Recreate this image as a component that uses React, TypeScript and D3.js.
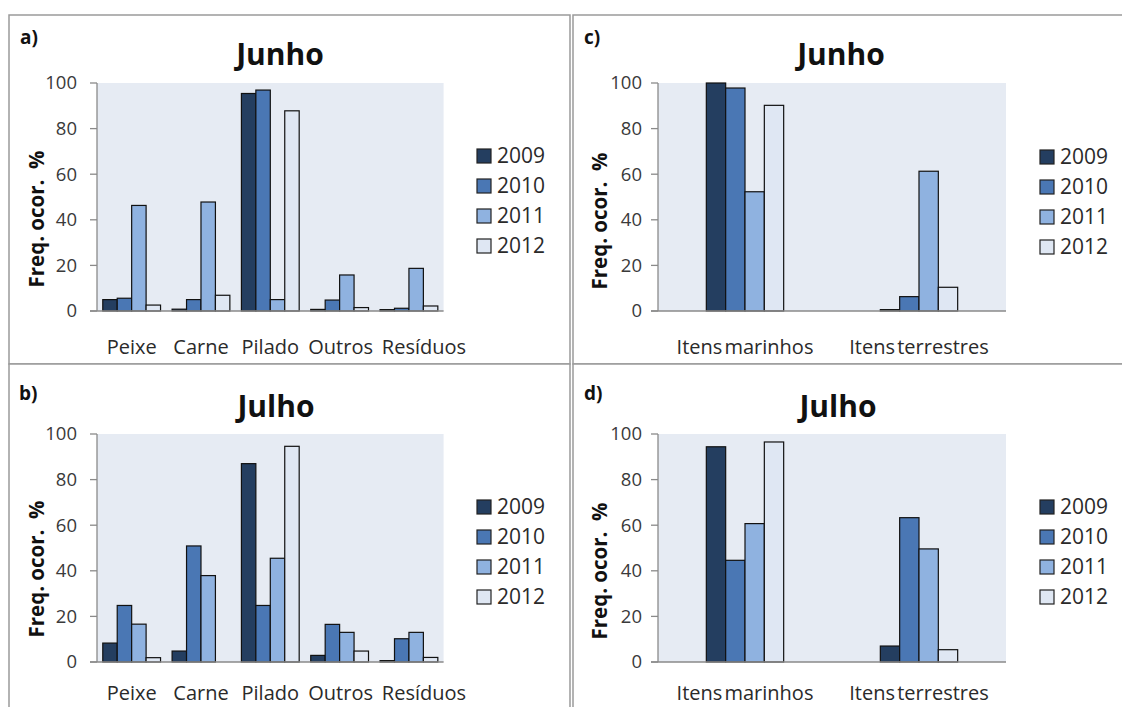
import React from "react";
import * as d3 from "d3";

// ---------- data ----------
const years = ["2009", "2010", "2011", "2012"];
const yearColors = ["#243E60", "#4A77B4", "#8FB2E0", "#DFE7F3"];
const yTicks = [0, 20, 40, 60, 80, 100];

const dietCategories = ["Peixe", "Carne", "Pilado", "Outros", "Resíduos"];
const originCategories = ["Itens marinhos", "Itens terrestres"];

// a) Junho – diet items (one array per year)
const junhoDiet2009 = [5, 0.8, 95.4, 0.7, 0.6];
const junhoDiet2010 = [5.6, 5, 96.9, 4.8, 1.2];
const junhoDiet2011 = [46.3, 47.8, 5, 15.8, 18.7];
const junhoDiet2012 = [2.6, 6.9, 87.8, 1.5, 2.2];

// b) Julho – diet items
const julhoDiet2009 = [8.3, 4.8, 87, 2.9, 0.6];
const julhoDiet2010 = [24.8, 50.9, 24.8, 16.5, 10.2];
const julhoDiet2011 = [16.6, 37.9, 45.5, 13, 13];
const julhoDiet2012 = [1.9, 0, 94.6, 4.8, 2];

// c) Junho – origin
const junhoOrigin2009 = [100, 0.6];
const junhoOrigin2010 = [97.8, 6.3];
const junhoOrigin2011 = [52.3, 61.3];
const junhoOrigin2012 = [90.2, 10.4];

// d) Julho – origin
const julhoOrigin2009 = [94.4, 7.0];
const julhoOrigin2010 = [44.6, 63.3];
const julhoOrigin2011 = [60.7, 49.6];
const julhoOrigin2012 = [96.5, 5.4];

const FONT = "'Open Sans', 'DejaVu Sans', sans-serif";

type PanelProps = {
  box: [number, number, number, number];
  letter: string;
  letterPos: [number, number];
  title: string;
  titlePos: [number, number];
  plot: [number, number, number, number]; // x0, x1, yTop, yBottom
  categories: string[];
  series: number[][];
  paddingInner: number;
  labelShift?: number[];
  labelGap: number;
  tickLabelRight: number;
  yLabelPos: [number, number];
  legendPos: [number, number];
};

function Panel(p: PanelProps) {
  const [px0, px1, pyTop, pyBot] = p.plot;
  const y = d3.scaleLinear().domain([0, 100]).range([pyBot, pyTop]);
  const x = d3
    .scaleBand<string>()
    .domain(p.categories)
    .range([px0, px1])
    .paddingInner(p.paddingInner)
    .paddingOuter(p.paddingInner / 2);
  const xs = d3.scaleBand<string>().domain(years).range([0, x.bandwidth()]).padding(0);

  return (
    <g>
      <rect x={p.box[0]} y={p.box[1]} width={p.box[2]} height={p.box[3]} fill="#fff" stroke="#9a9a9a" strokeWidth={1.5} />
      <text x={p.letterPos[0]} y={p.letterPos[1]} fontFamily={FONT} fontWeight="bold" fontSize={19} fill="#111">
        {p.letter}
      </text>
      <text x={p.titlePos[0]} y={p.titlePos[1]} textAnchor="middle" fontFamily={FONT} fontWeight="bold" fontSize={30} fill="#111">
        {p.title}
      </text>
      <rect x={px0} y={pyTop} width={px1 - px0} height={pyBot - pyTop} fill="#E6EBF3" />
      {/* y axis */}
      <line x1={px0} x2={px0} y1={pyTop} y2={pyBot} stroke="#8a8a8a" strokeWidth={1.3} />
      {yTicks.map((t) => (
        <g key={t}>
          <line x1={px0 - 7} x2={px0} y1={y(t)} y2={y(t)} stroke="#8a8a8a" strokeWidth={1.3} />
          <text
            x={p.tickLabelRight}
            y={y(t)}
            dy="0.35em"
            textAnchor="end"
            fontFamily={FONT}
            fontSize={18.5}
            fill="#3a3a3a"
          >
            {t}
          </text>
        </g>
      ))}
      {/* bars */}
      {p.categories.map((c, ci) =>
        years.map((yr, si) => {
          const v = p.series[si][ci];
          if (v <= 0) return null;
          return (
            <rect
              key={c + yr}
              x={(x(c) as number) + (xs(yr) as number)}
              y={y(v)}
              width={xs.bandwidth()}
              height={pyBot - y(v)}
              fill={yearColors[si]}
              stroke="#111"
              strokeWidth={1.2}
            />
          );
        })
      )}
      {/* x axis */}
      <line x1={px0 - 7} x2={px1} y1={pyBot} y2={pyBot} stroke="#8a8a8a" strokeWidth={1.3} />
      {p.categories.map((c, ci) => (
        <text
          key={c}
          x={(x(c) as number) + x.bandwidth() / 2 + (p.labelShift ? p.labelShift[ci] : 0)}
          y={pyBot + p.labelGap}
          dy="0.35em"
          textAnchor="middle"
          fontFamily={FONT}
          fontSize={20}
          fill="#2a2a2a"
          wordSpacing={-3}
        >
          {c}
        </text>
      ))}
      {/* y label */}
      <text
        transform={`translate(${p.yLabelPos[0]},${p.yLabelPos[1]}) rotate(-90)`}
        textAnchor="middle"
        dy="0.35em"
        fontFamily={FONT}
        fontWeight="bold"
        fontSize={20.5}
        fill="#111"
      >
        {"Freq. ocor.\u00a0 %"}
      </text>
      {/* legend */}
      <g transform={`translate(${p.legendPos[0]},${p.legendPos[1]})`}>
        {years.map((yr, i) => (
          <g key={yr} transform={`translate(0,${i * 30})`}>
            <rect x={0} y={-7} width={14} height={14} fill={yearColors[i]} stroke="#222" strokeWidth={1.2} />
            <text x={20} y={0} dy="0.35em" fontFamily={FONT} fontSize={21} fill="#2a2a2a">
              {yr}
            </text>
          </g>
        ))}
      </g>
    </g>
  );
}

export default function App() {
  const dietShift = [0, 0, 0, 1, 15];
  return (
    <svg
      width={1122}
      height={707}
      style={{ position: "absolute", left: 0, top: 0, display: "block", background: "#fff" }}
    >
      <Panel
        box={[9, 15, 561, 349]}
        letter="a)"
        letterPos={[20, 44]}
        title="Junho"
        titlePos={[280, 65]}
        plot={[97, 443.6, 83, 311]}
        categories={dietCategories}
        series={[junhoDiet2009, junhoDiet2010, junhoDiet2011, junhoDiet2012]}
        paddingInner={0.8 / 4.8}
        labelShift={dietShift}
        labelGap={36}
        tickLabelRight={77}
        yLabelPos={[37, 219]}
        legendPos={[477, 156]}
      />
      <Panel
        box={[9, 364, 561, 360]}
        letter="b)"
        letterPos={[19, 400]}
        title="Julho"
        titlePos={[276, 417]}
        plot={[97, 443.6, 434, 662]}
        categories={dietCategories}
        series={[julhoDiet2009, julhoDiet2010, julhoDiet2011, julhoDiet2012]}
        paddingInner={0.8 / 4.8}
        labelShift={dietShift}
        labelGap={31}
        tickLabelRight={77}
        yLabelPos={[37, 569]}
        legendPos={[477, 507]}
      />
      <Panel
        box={[573, 15, 560, 349]}
        letter="c)"
        letterPos={[584, 44]}
        title="Junho"
        titlePos={[841, 65]}
        plot={[658, 1006, 83, 311]}
        categories={originCategories}
        series={[junhoOrigin2009, junhoOrigin2010, junhoOrigin2011, junhoOrigin2012]}
        paddingInner={5 / 9}
        labelGap={36}
        tickLabelRight={642}
        yLabelPos={[600, 221]}
        legendPos={[1040, 157]}
      />
      <Panel
        box={[573, 364, 560, 360]}
        letter="d)"
        letterPos={[584, 400]}
        title="Julho"
        titlePos={[838, 417]}
        plot={[658, 1006, 434, 662]}
        categories={originCategories}
        series={[julhoOrigin2009, julhoOrigin2010, julhoOrigin2011, julhoOrigin2012]}
        paddingInner={5 / 9}
        labelGap={31}
        tickLabelRight={642}
        yLabelPos={[600, 571]}
        legendPos={[1040, 507]}
      />
    </svg>
  );
}
